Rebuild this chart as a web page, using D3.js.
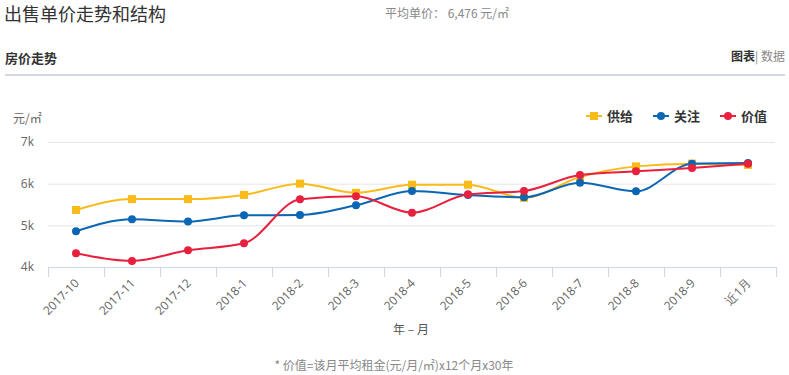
<!DOCTYPE html>
<html>
<head>
<meta charset="utf-8">
<script src="https://cdn.jsdelivr.net/npm/d3@7"></script>
<style>
  body { margin: 0; background: #fff; font-family: "Noto Sans CJK SC", "Noto Sans", sans-serif; }
  #chart svg { display: block; }
</style>
</head>
<body>
<div id="chart"></div>
<script>
// data
var months = ["2017-10", "2017-11", "2017-12", "2018-1", "2018-2", "2018-3", "2018-4",
              "2018-5", "2018-6", "2018-7", "2018-8", "2018-9", "近1月"];
var supply = [5370, 5630, 5630, 5730, 6000, 5780, 5975, 5975, 5660, 6160, 6415, 6480, 6450];
var attention = [4857, 5145, 5090, 5240, 5248, 5480, 5824, 5728, 5672, 6024, 5816, 6480, 6496];
var value = [4330, 4145, 4400, 4568, 5624, 5696, 5304, 5744, 5824, 6208, 6296, 6376, 6480];
var yTicks = [4000, 5000, 6000, 7000];
var seriesNames = ["供给", "关注", "价值"];

var w = 789, h = 375;
var plotLeft = 48, plotRight = 775, plotTop = 142, plotBottom = 267;

var svg = d3.select("#chart").append("svg")
  .attr("width", w)
  .attr("height", h);

// header
svg.append("text").attr("x", 4).attr("y", 21)
  .attr("font-size", 18).attr("fill", "#333").text("出售单价走势和结构");
svg.append("text").attr("x", 385).attr("y", 18)
  .attr("font-size", 12).attr("fill", "#888").text("平均单价： 6,476 元/㎡");
svg.append("text").attr("x", 5).attr("y", 63)
  .attr("font-size", 13).attr("font-weight", "bold").attr("fill", "#333").text("房价走势");
var tabs = svg.append("text").attr("x", 785).attr("y", 61)
  .attr("font-size", 12).attr("text-anchor", "end").attr("fill", "#333");
tabs.append("tspan").attr("font-weight", "bold").text("图表");
tabs.append("tspan").attr("fill", "#888").text("| 数据");
svg.append("rect").attr("x", 5).attr("y", 74).attr("width", 780).attr("height", 2).attr("fill", "#d3d7e1");

// scales
var x = d3.scaleBand().domain(months).range([plotLeft, plotRight + 1]);
var y = d3.scaleLinear().domain([4000, 7000]).range([plotBottom, plotTop]);

// grid lines
svg.append("g").selectAll("line")
  .data(yTicks.slice(1))
  .join("line")
  .attr("x1", plotLeft).attr("x2", plotRight)
  .attr("y1", d => y(d) + 0.5).attr("y2", d => y(d) + 0.5)
  .attr("stroke", "#e6e6e6").attr("stroke-width", 1);

// y axis labels
var yAxis = d3.axisLeft(y).tickValues(yTicks).tickSize(0).tickPadding(14)
  .tickFormat(d => (d / 1000) + "k");
var gy = svg.append("g").attr("transform", "translate(" + plotLeft + ",0)").call(yAxis);
gy.select(".domain").remove();
gy.selectAll("text").attr("font-size", 12).attr("fill", "#666")
  .attr("font-family", "Open Sans, sans-serif");

svg.append("text").attr("x", 13).attr("y", 123)
  .attr("font-size", 12).attr("fill", "#666").text("元/㎡");

// x axis
var xAxis = d3.axisBottom(x).tickSize(0).tickPadding(0);
var gx = svg.append("g").attr("transform", "translate(0," + plotBottom + ")").call(xAxis);
gx.select(".domain").attr("stroke", "#ccd6eb").attr("d", "M" + plotLeft + ",0.5H" + (plotRight + 1));
// tick marks at band edges
gx.selectAll(".edge")
  .data(months.concat(["end"]))
  .join("line")
  .attr("class", "edge")
  .attr("x1", (d, i) => plotLeft + i * x.step() + 0.5)
  .attr("x2", (d, i) => plotLeft + i * x.step() + 0.5)
  .attr("y1", 0).attr("y2", 10)
  .attr("stroke", "#ccd6eb");
gx.selectAll(".tick text")
  .attr("font-size", 12).attr("fill", "#666")
  .attr("font-family", "Open Sans, sans-serif")
  .attr("text-anchor", "end")
  .attr("dy", "0.35em")
  .attr("transform", "translate(1,14) rotate(-45)");

svg.append("text").attr("x", 411).attr("y", 334).attr("text-anchor", "middle")
  .attr("font-size", 12).attr("fill", "#555").text("年 – 月");

svg.append("text").attr("x", 394).attr("y", 370).attr("text-anchor", "middle")
  .attr("font-size", 12).attr("fill", "#888").text("* 价值=该月平均租金(元/月/㎡)x12个月x30年");

// lines
var colors = ["#f9bb1a", "#0b66b4", "#e8203f"];
var allSeries = [supply, attention, value];
var line = d3.line()
  .x((d, i) => x(months[i]) + x.bandwidth() / 2)
  .y(d => y(d))
  .curve(d3.curveMonotoneX);

allSeries.forEach(function (s, k) {
  svg.append("path")
    .datum(s)
    .attr("fill", "none")
    .attr("stroke", colors[k])
    .attr("stroke-width", 2)
    .attr("d", line);
});

// markers
allSeries.forEach(function (s, k) {
  var g = svg.append("g").attr("fill", colors[k]);
  if (k === 0) {
    g.selectAll("rect").data(s).join("rect")
      .attr("x", (d, i) => x(months[i]) + x.bandwidth() / 2 - 4)
      .attr("y", d => y(d) - 4)
      .attr("width", 8).attr("height", 8);
  } else {
    g.selectAll("circle").data(s).join("circle")
      .attr("cx", (d, i) => x(months[i]) + x.bandwidth() / 2)
      .attr("cy", d => y(d))
      .attr("r", 4);
  }
});

// legend
var legendX = [586, 653, 720];
seriesNames.forEach(function (name, k) {
  var g = svg.append("g").attr("transform", "translate(" + legendX[k] + ",116)");
  g.append("line").attr("x1", 0).attr("x2", 16).attr("stroke", colors[k]).attr("stroke-width", 2);
  if (k === 0) {
    g.append("rect").attr("x", 4).attr("y", -4).attr("width", 8).attr("height", 8).attr("fill", colors[k]);
  } else {
    g.append("circle").attr("cx", 8).attr("r", 4).attr("fill", colors[k]);
  }
  g.append("text").attr("x", 21).attr("y", 5)
    .attr("font-size", 13).attr("font-weight", "bold").attr("fill", "#333").text(name);
});
</script>
</body>
</html>
